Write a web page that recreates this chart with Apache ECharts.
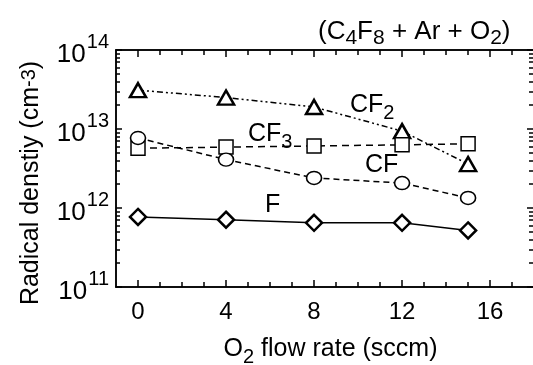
<!DOCTYPE html>
<html>
<head>
<meta charset="utf-8">
<script src="https://cdn.jsdelivr.net/npm/echarts@6/dist/echarts.min.js"></script>
<style>
  html, body { margin: 0; padding: 0; background: #fff; }
  #chart { width: 533px; height: 365px; }
</style>
</head>
<body>
<div id="chart"></div>
<script>
// O2 flow rate (sccm)
const flow = [0, 4, 8, 12, 15]
// radical densities (cm-3)
const cf2 = [3.1e13, 2.5e13, 1.9e13, 9.4e12, 3.6e12]
const cf3 = [5.7e12, 5.9e12, 6.1e12, 6.3e12, 6.5e12]
const cf = [7.7e12, 4.1e12, 2.4e12, 2.07e12, 1.34e12]
const fAtom = [7.7e11, 7.1e11, 6.5e11, 6.5e11, 5.2e11]

const xMajor = [0, 4, 8, 12, 16]
const xMinor = [1, 2, 3, 5, 6, 7, 9, 10, 11, 13, 14, 15, 17]
const yMajor = [1e11, 1e12, 1e13, 1e14]
const yMinor = []
;[1e11, 1e12, 1e13].forEach(d => {
  for (let k = 2; k <= 9; k++) yMinor.push(k * d)
})

const font = 'Liberation Sans, Arial, sans-serif'
const black = '#000'

const pair = (arr) => flow.map((x, i) => [x, arr[i]])

const chart = echarts.init(document.getElementById('chart'))

// x axes: bottom/top, major/minor ticks
function xAxis(pos, ticks, len, showLabel) {
  return {
    type: 'value',
    position: pos,
    min: -1,
    max: 17.95,
    splitLine: { show: false },
    axisLine: { show: true, onZero: false, lineStyle: { color: black, width: 1.5 } },
    axisTick: { show: true, inside: true, length: len, customValues: ticks, lineStyle: { color: black, width: 1.5 } },
    axisLabel: {
      show: showLabel,
      customValues: xMajor,
      margin: 13,
      fontFamily: font,
      fontSize: 24,
      color: black
    }
  }
}

// y axes: left/right, major/minor ticks
function yAxis(pos, ticks, len, showLabel) {
  return {
    type: 'log',
    logBase: 10,
    position: pos,
    min: 1e11,
    max: 1e14,
    splitLine: { show: false },
    minorTick: { show: false },
    axisLine: { show: pos === 'left', onZero: false, lineStyle: { color: black, width: 1.5 } },
    axisTick: { show: true, inside: true, length: len, customValues: ticks, lineStyle: { color: black, width: 1.5 } },
    axisLabel: {
      show: showLabel,
      customValues: yMajor,
      margin: 7,
      formatter: v => '{b|10}{s|' + Math.round(Math.log10(v)) + '}',
      rich: {
        b: { fontFamily: font, fontSize: 26, color: black, lineHeight: 36, verticalAlign: 'bottom' },
        s: { fontFamily: font, fontSize: 20, color: black, lineHeight: 20, verticalAlign: 'top', padding: [0, 0, 0, 1] }
      }
    }
  }
}

const ax0 = xAxis('bottom', xMajor, 7, true)
ax0.name = 'O{sub|2} flow rate (sccm)'
ax0.nameLocation = 'middle'
ax0.nameGap = 44
ax0.nameTextStyle = {
  fontFamily: font, fontSize: 25, color: black, padding: [0, 0, 0, 12],
  rich: { sub: { fontFamily: font, fontSize: 20, color: black, verticalAlign: 'bottom', padding: [16, 0, 0, 0] } }
}

function series(name, data, symbol, size, bw, dash) {
  return {
    name,
    type: 'line',
    xAxisIndex: 0,
    yAxisIndex: 0,
    data: pair(data),
    symbol,
    symbolSize: size,
    showAllSymbol: true,
    lineStyle: { color: black, width: 1.5, type: dash },
    itemStyle: { color: '#fff', borderColor: black, borderWidth: bw },
    emphasis: { disabled: true },
    z: 3
  }
}

function richText(size) {
  return {
    n: { fontFamily: font, fontSize: size, fill: black, lineHeight: 30, verticalAlign: 'top' },
    sub: { fontFamily: font, fontSize: size - 5, fill: black, lineHeight: 20, verticalAlign: 'bottom', padding: [26, 0, 0, 0] },
    sup: { fontFamily: font, fontSize: 20, fill: black, lineHeight: 20, verticalAlign: 'top' }
  }
}
function label(left, top, text, size) {
  size = size || 25
  return {
    type: 'text', left, top, z: 10,
    style: { text, fill: black, font: size + 'px ' + font, rich: richText(size) }
  }
}

chart.setOption({
  animation: false,
  backgroundColor: '#fff',
  grid: { left: 116, right: 0, top: 50, bottom: 78, outerBoundsMode: 'none', containLabel: false },
  xAxis: [
    ax0,
    xAxis('bottom', xMinor, 5, false),
    xAxis('top', xMajor, 7, false),
    xAxis('top', xMinor, 5, false)
  ],
  yAxis: [
    yAxis('left', yMajor, 6, true),
    yAxis('left', yMinor, 4, false),
    yAxis('right', yMajor, 6, false),
    yAxis('right', yMinor, 4, false)
  ],
  series: [
    series('CF2', cf2, 'triangle', [16, 14], 2.5, [6, 3, 2, 3, 2, 3]),
    series('CF3', cf3, 'rect', 14, 1.5, [7, 5]),
    series('CF', cf, 'circle', [15, 13], 1.5, [6, 4]),
    series('F', fAtom, 'diamond', 16, 2.5, 'solid')
  ],
  graphic: [
    label(318, 2, '{n|(C}{sub|4}{n|F}{sub|8}{n| + Ar + O}{sub|2}{n|)}', 26),
    label(350, 77, '{n|CF}{sub|2}'),
    label(248, 106, '{n|CF}{sub|3}'),
    label(365, 153, '{n|CF}'),
    label(265, 193, '{n|F}'),
    {
      type: 'text', x: 34, y: 183, rotation: Math.PI / 2, z: 10,
      style: {
        text: '{n|Radical denstiy (cm}{sup|-3}{n|)}',
        fill: black, font: '25px ' + font, rich: richText(25),
        align: 'center', verticalAlign: 'middle'
      }
    }
  ]
})
</script>
</body>
</html>
